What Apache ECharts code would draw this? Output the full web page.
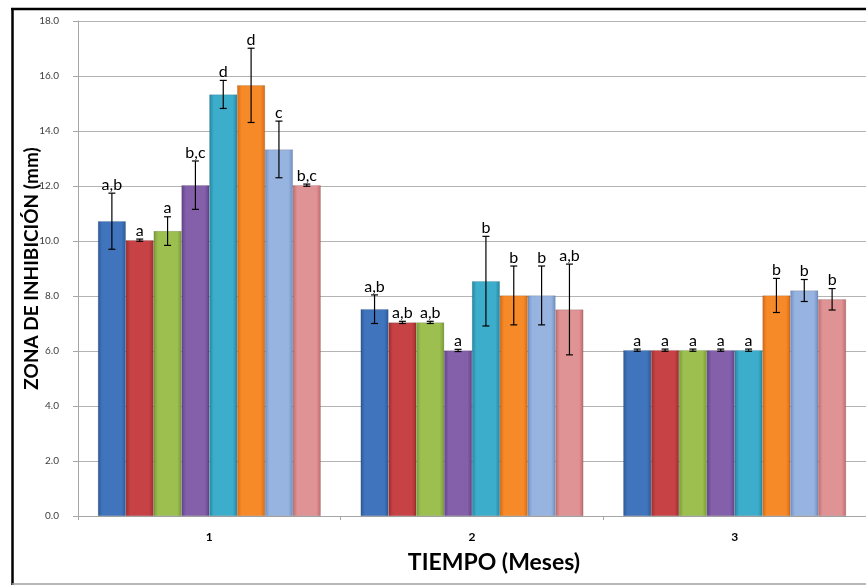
<!DOCTYPE html>
<html>
<head>
<meta charset="utf-8">
<script src="https://cdn.jsdelivr.net/npm/echarts@6/dist/echarts.min.js"></script>
<style>html,body{margin:0;padding:0;background:#fff}#c{width:866px;height:585px}</style>
</head>
<body>
<div id="c"></div>
<script>
// ---- data ----
const categories = ['1', '2', '3'];
const yTicks = [0, 2, 4, 6, 8, 10, 12, 14, 16, 18];

const mean1 = [10.72, 7.52, 6.03];
const mean2 = [10.03, 7.04, 6.03];
const mean3 = [10.36, 7.04, 6.03];
const mean4 = [12.03, 6.02, 6.03];
const mean5 = [15.33, 8.54, 6.03];
const mean6 = [15.66, 8.02, 8.02];
const mean7 = [13.33, 8.02, 8.20];
const mean8 = [12.03, 7.51, 7.88];

const err1 = [1.02, 0.52, 0.04];
const err2 = [0.04, 0.04, 0.04];
const err3 = [0.52, 0.04, 0.04];
const err4 = [0.88, 0.04, 0.04];
const err5 = [0.51, 1.63, 0.04];
const err6 = [1.35, 1.07, 0.62];
const err7 = [1.03, 1.07, 0.40];
const err8 = [0.04, 1.65, 0.39];

const letters1 = ['a,b', 'a,b', 'a'];
const letters2 = ['a', 'a,b', 'a'];
const letters3 = ['a', 'a,b', 'a'];
const letters4 = ['b,c', 'a', 'a'];
const letters5 = ['d', 'b', 'a'];
const letters6 = ['d', 'b', 'b'];
const letters7 = ['c', 'b', 'b'];
const letters8 = ['b,c', 'a,b', 'b'];

const means = [mean1, mean2, mean3, mean4, mean5, mean6, mean7, mean8];
const errs = [err1, err2, err3, err4, err5, err6, err7, err8];
const letters = [letters1, letters2, letters3, letters4, letters5, letters6, letters7, letters8];

// ---- styles ----
const palette = [
  ['#2C5A9A', '#4075BE'],
  ['#A02C2E', '#C64244'],
  ['#7A9C35', '#9CBF50'],
  ['#61428A', '#845FAA'],
  ['#2388A4', '#3CADCB'],
  ['#D96A10', '#F78A28'],
  ['#6F8FC4', '#97B3E0'],
  ['#C06C6E', '#E09395']
];
const GAP = 0.152;
const N = 8;

function grad(c) {
  return new echarts.graphic.LinearGradient(0, 0, 1, 0, [
    {offset: 0, color: c[0]},
    {offset: 0.16, color: c[1]},
    {offset: 0.84, color: c[1]},
    {offset: 1, color: c[0]}
  ]);
}

const series = [];
means.forEach(function (m, i) {
  series.push({
    type: 'bar',
    name: 'S' + (i + 1),
    data: m,
    barGap: '0%',
    barCategoryGap: (GAP * 100) + '%',
    itemStyle: {color: grad(palette[i]), borderColor: 'rgba(0,0,0,0.25)', borderWidth: 0.5},
    z: 2
  });
});
means.forEach(function (m, i) {
  series.push({
    type: 'custom',
    name: 'E' + (i + 1),
    z: 5,
    data: m.map(function (v, j) { return [j, v, errs[i][j]]; }),
    renderItem: function (params, api) {
      const cat = api.value(0), v = api.value(1), e = api.value(2);
      const band = api.size([1, 0])[0];
      const inner = band * (1 - GAP);
      const bw = inner / N;
      const cx = api.coord([cat, v])[0] - inner / 2 + (i + 0.5) * bw;
      const yt = api.coord([cat, v + e])[1];
      const yb = api.coord([cat, v - e])[1];
      const cap = 3.5;
      const st = {stroke: '#000', lineWidth: 1.2};
      const txt = letters[i][params.dataIndex];
      return {
        type: 'group',
        children: [
          {type: 'line', shape: {x1: cx, y1: yt, x2: cx, y2: yb}, style: st},
          {type: 'line', shape: {x1: cx - cap, y1: yt, x2: cx + cap, y2: yt}, style: st},
          {type: 'line', shape: {x1: cx - cap, y1: yb, x2: cx + cap, y2: yb}, style: st},
          {type: 'text', x: cx, y: yt - 0.5, style: {text: txt, fill: '#000', font: '16px Lato, "Open Sans", sans-serif', textAlign: 'center', textVerticalAlign: 'bottom'}}
        ]
      };
    }
  });
});

const chart = echarts.init(document.getElementById('c'), null, {renderer: 'canvas'});
chart.setOption({
  animation: false,
  backgroundColor: '#fff',
  grid: {left: 78, right: -1, top: 21, bottom: 69, containLabel: false},
  xAxis: {
    type: 'category',
    data: categories,
    name: 'TIEMPO (Meses)',
    nameLocation: 'middle',
    nameGap: 35,
    nameMoveOverlap: false,
    nameTextStyle: {fontFamily: 'Lato', fontWeight: 'bold', fontSize: 23, color: '#000', padding: [0, 0, 0, 44]},
    axisLine: {lineStyle: {color: '#a6a6a6', width: 1}},
    axisTick: {show: true, length: 4, lineStyle: {color: '#a6a6a6'}},
    axisLabel: {fontFamily: 'Lato', fontWeight: 'bold', fontSize: 12, color: '#000', margin: 15},
    splitLine: {show: false}
  },
  yAxis: {
    type: 'value',
    min: yTicks[0],
    max: yTicks[yTicks.length - 1],
    interval: 2,
    name: 'ZONA DE INHIBICIÓN (mm)',
    nameLocation: 'middle',
    nameGap: 37,
    nameMoveOverlap: false,
    nameRotate: 90,
    nameTextStyle: {fontFamily: 'Lato', fontWeight: 'bold', fontSize: 19, color: '#000'},
    axisLine: {show: true, lineStyle: {color: '#a6a6a6', width: 1}},
    axisTick: {show: true, inside: false, length: 5, lineStyle: {color: '#a6a6a6'}},
    axisLabel: {fontFamily: 'Lato', fontSize: 10, color: '#404040', margin: 19,
      formatter: function (v) { return v.toFixed(1); }},
    splitLine: {show: true, lineStyle: {color: '#b4b4b4', width: 1}}
  },
  graphic: [
    {type: 'line', shape: {x1: 11, y1: 9, x2: 866, y2: 9}, style: {stroke: '#000', lineWidth: 2.5}, z: 100},
    {type: 'line', shape: {x1: 12.5, y1: 8, x2: 12.5, y2: 585}, style: {stroke: '#000', lineWidth: 2.5}, z: 100},
    {type: 'line', shape: {x1: 12, y1: 584, x2: 866, y2: 584}, style: {stroke: '#a0a0a0', lineWidth: 1.5}, z: 100}
  ],
  series: series
});
</script>
</body>
</html>
